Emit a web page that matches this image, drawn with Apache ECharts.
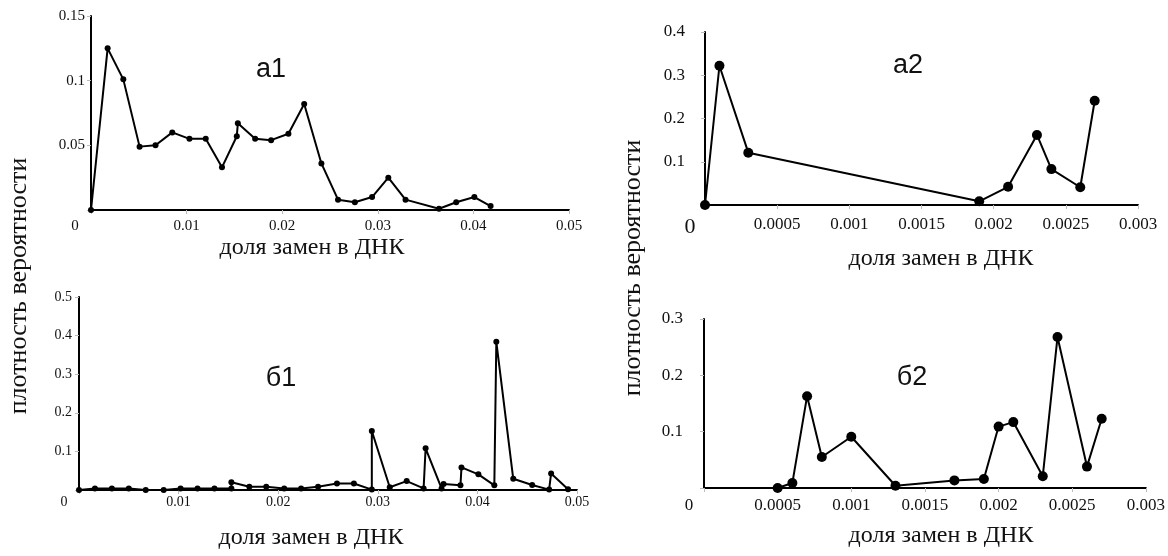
<!DOCTYPE html>
<html>
<head>
<meta charset="utf-8">
<script src="https://cdn.jsdelivr.net/npm/echarts@6/dist/echarts.min.js"></script>
<style>
html,body{margin:0;padding:0;background:#fff;}
#chart{width:1168px;height:556px;}
</style>
</head>
<body>
<div id="chart"></div>
<script>
// ---- data ----
const a1X = [0, 0.00174, 0.00338, 0.00508, 0.00675, 0.0085, 0.0103, 0.012, 0.0137, 0.01525, 0.01536, 0.01717, 0.01884, 0.02065, 0.0223, 0.0241, 0.02584, 0.0276, 0.0294, 0.0311, 0.0329, 0.0364, 0.0382, 0.0401, 0.0418];
const a1Y = [0, 0.125, 0.101, 0.049, 0.050, 0.060, 0.055, 0.055, 0.033, 0.057, 0.067, 0.055, 0.054, 0.059, 0.082, 0.036, 0.008, 0.006, 0.010, 0.025, 0.008, 0.001, 0.006, 0.010, 0.003];

const a2X = [0, 0.0001, 0.0003, 0.0019, 0.0021, 0.0023, 0.0024, 0.0026, 0.0027];
const a2Y = [0, 0.322, 0.121, 0.0085, 0.042, 0.162, 0.083, 0.041, 0.241];

const b1X = [0, 0.0016, 0.0033, 0.0050, 0.0067, 0.0085, 0.0102, 0.0119, 0.0136, 0.0153, 0.0153, 0.0171, 0.0188, 0.0206, 0.0223, 0.024, 0.0259, 0.0276, 0.0294, 0.0294, 0.0312, 0.0329, 0.0346, 0.0348, 0.0364, 0.0366, 0.0383, 0.0384, 0.0401, 0.0417, 0.0419, 0.0436, 0.0455, 0.0472, 0.0474, 0.0491];
const b1Y = [0, 0.004, 0.004, 0.004, 0, 0, 0.004, 0.004, 0.004, 0.004, 0.02, 0.0086, 0.0086, 0.004, 0.004, 0.0086, 0.017, 0.017, 0.001, 0.153, 0.007, 0.023, 0.004, 0.108, 0.004, 0.0155, 0.012, 0.0586, 0.0405, 0.012, 0.384, 0.029, 0.013, 0.001, 0.043, 0.002];

const b2X = [0.0005, 0.0006, 0.0007, 0.0008, 0.001, 0.0013, 0.0017, 0.0019, 0.002, 0.0021, 0.0023, 0.0024, 0.0026, 0.0027];
const b2Y = [0, 0.009, 0.163, 0.055, 0.091, 0.004, 0.0135, 0.016, 0.109, 0.117, 0.021, 0.268, 0.038, 0.123];

const a1XLabels = ['0', '0.01', '0.02', '0.03', '0.04', '0.05'];
const a1YLabels = ['', '0.05', '0.1', '0.15'];
const a2XLabels = ['0', '0.0005', '0.001', '0.0015', '0.002', '0.0025', '0.003'];
const a2YLabels = ['', '0.1', '0.2', '0.3', '0.4'];
const b1XLabels = ['0', '0.01', '0.02', '0.03', '0.04', '0.05'];
const b1YLabels = ['', '0.1', '0.2', '0.3', '0.4', '0.5'];
const b2XLabels = ['0', '0.0005', '0.001', '0.0015', '0.002', '0.0025', '0.003'];
const b2YLabels = ['', '0.1', '0.2', '0.3'];

const panelNames = ['а1', 'а2', 'б1', 'б2'];
const xTitle = 'доля замен в ДНК';
const yTitle = 'плотность вероятности';

// ---- chart ----
const SERIF = '"Liberation Serif", "DejaVu Serif", serif';
const SANS = '"Liberation Sans", Arial, sans-serif';
const TXT = '#111';

function pairs(xs, ys) { return xs.map((x, i) => [x, ys[i]]); }

function xAxis(grid, max, interval, labels, fs, margin, zeroPad, zeroFs) {
  return {
    type: 'value', gridIndex: grid, min: 0, max: max, interval: interval,
    splitLine: { show: false },
    axisLine: { lineStyle: { color: '#000', width: 2 } },
    axisTick: { show: true, inside: false, length: 4, lineStyle: { color: '#bbb', width: 1 } },
    axisLabel: {
      fontFamily: SERIF, fontSize: fs, color: TXT, margin: margin,
      formatter: function (v, i) { return i === 0 ? '{z|' + labels[0] + '}' : labels[i]; },
      rich: { z: { fontFamily: SERIF, fontSize: zeroFs, color: TXT, padding: [0, zeroPad, 0, 0] } }
    }
  };
}
function yAxis(grid, max, interval, labels, fs, margin) {
  return {
    type: 'value', gridIndex: grid, min: 0, max: max, interval: interval,
    splitLine: { show: false },
    axisLine: { show: true, lineStyle: { color: '#000', width: 2 } },
    axisTick: { show: true, length: 4, lineStyle: { color: '#bbb', width: 1 } },
    axisLabel: {
      fontFamily: SERIF, fontSize: fs, color: TXT, margin: margin,
      formatter: function (v, i) { return labels[i]; }
    }
  };
}
function line(i, data, sym) {
  return {
    type: 'line', xAxisIndex: i, yAxisIndex: i, data: data,
    symbol: 'circle', symbolSize: sym, showAllSymbol: true,
    itemStyle: { color: '#000' },
    lineStyle: { color: '#000', width: 2 },
    animation: false
  };
}
function text(str, x, y, fs, family, rot) {
  return {
    type: 'text', x: x, y: y, rotation: rot || 0,
    style: { text: str, fontSize: fs, fontFamily: family, fill: TXT, align: 'center', verticalAlign: 'middle' }
  };
}

const chart = echarts.init(document.getElementById('chart'), null, { renderer: 'canvas' });
chart.setOption({
  backgroundColor: '#fff',
  animation: false,
  grid: [
    { left: 91, top: 16, width: 478, height: 194 },
    { left: 705, top: 32, width: 433, height: 173 },
    { left: 79, top: 297, width: 498, height: 193 },
    { left: 704, top: 319, width: 442, height: 169 }
  ],
  xAxis: [
    xAxis(0, 0.05, 0.01, a1XLabels, 15, 9, 32, 15),
    xAxis(1, 0.003, 0.0005, a2XLabels, 17, 11, 30, 22),
    xAxis(2, 0.05, 0.01, b1XLabels, 14, 5, 30, 14),
    xAxis(3, 0.003, 0.0005, b2XLabels, 17, 9, 30, 17)
  ],
  yAxis: [
    yAxis(0, 0.15, 0.05, a1YLabels, 15, 6),
    yAxis(1, 0.4, 0.1, a2YLabels, 17, 20),
    yAxis(2, 0.5, 0.1, b1YLabels, 14, 7),
    yAxis(3, 0.3, 0.1, b2YLabels, 17, 21)
  ],
  series: [
    line(0, pairs(a1X, a1Y), 6),
    line(1, pairs(a2X, a2Y), 10),
    line(2, pairs(b1X, b1Y), 6),
    line(3, pairs(b2X, b2Y), 10)
  ],
  graphic: [
    text(panelNames[0], 271, 70, 27, SANS),
    text(panelNames[1], 908, 66, 27, SANS),
    text(panelNames[2], 281, 379, 27, SANS),
    text(panelNames[3], 912, 378, 27, SANS),
    text(xTitle, 312, 248, 24, SERIF),
    text(xTitle, 941, 259, 24, SERIF),
    text(xTitle, 311, 538, 24, SERIF),
    text(xTitle, 941, 536, 24, SERIF),
    text(yTitle, 19, 286, 26, SERIF, Math.PI / 2),
    text(yTitle, 633, 268, 26, SERIF, Math.PI / 2)
  ]
});
</script>
</body>
</html>
